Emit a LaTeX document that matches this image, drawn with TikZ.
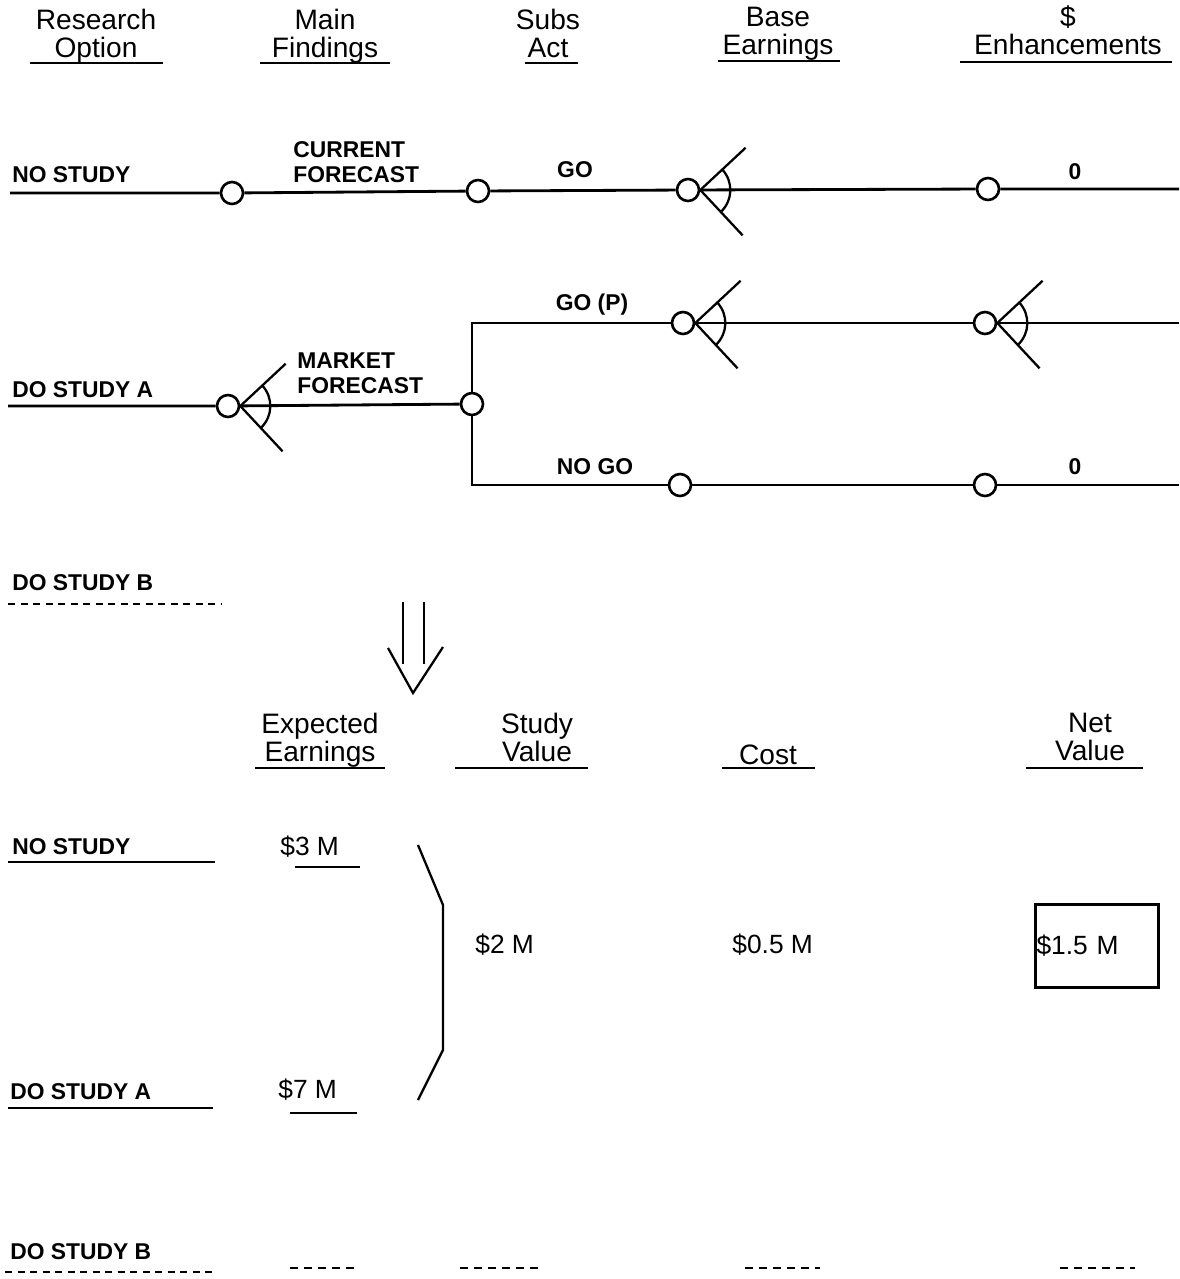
\documentclass[tikz,border=0pt]{standalone}
\usepackage{fontspec}
\setmainfont{Liberation Sans}

\tikzstyle{heading} = [align=center, anchor=north, font=\fontsize{16}{16}\selectfont, inner sep=0pt]
\tikzstyle{rowname} = [anchor=west, font=\fontsize{13}{15}\selectfont\bfseries, inner sep=0pt]
\tikzstyle{branch} = [align=left, font=\fontsize{13}{14.5}\selectfont\bfseries, inner sep=0pt]
\tikzstyle{amount} = [anchor=west, font=\fontsize{15}{17}\selectfont, inner sep=0pt]
\tikzstyle{event} = [circle, draw, fill=white, line width=1.5pt, minimum size=4.4mm, inner sep=0pt]
\tikzstyle{netbox} = [draw, line width=1.4pt, align=left, text width=24.2mm, minimum height=16.6mm, inner xsep=0.2mm, font=\fontsize{15}{17}\selectfont]
\tikzstyle{line} = [draw, line width=1.6pt]
\tikzstyle{fan} = [line width=1.3pt]
\tikzstyle{underline} = [line width=1.3pt]
\tikzstyle{blank} = [line width=1.3pt, dash pattern=on 1.4mm off 1.1mm]
\tikzstyle{shortblank} = [line width=1.3pt, dash pattern=on 1.6mm off 1.2mm]

\begin{document}
\begin{tikzpicture}[x=0.2mm, y=0.2mm]

\useasboundingbox (0,0) rectangle (1179,-1279);

	%Column headings of the decision tree
	\node[heading](research) at (96,-9) {Research\\Option};
	\node[heading](findings) at (325,-9) {Main\\Findings};
	\node[heading](subsact) at (548,-9) {Subs\\Act};
	\node[heading](baseearn) at (778,-7) {Base\\Earnings};
	\node[heading](enhance) at (1068,-5) {\$\\Enhancements};
	\draw[underline] (30,-63) -- (163,-63) (260,-63) -- (390,-63) (525,-63) -- (578,-63)
		(718,-61) -- (840,-61) (960,-62) -- (1172,-62);

	%No study branch
	\node[rowname](nsName) at (12,-175) {NO STUDY};
	\coordinate (nsStart) at (10,-193);
	\node[event](nsMain) at (232,-193) {};
	\node[event](nsAct) at (478,-191) {};
	\node[event](nsBase) at (688,-190) {};
	\node[event](nsEnh) at (988,-189) {};
	\coordinate (nsEnd) at (1179,-189);
	\path[line] (nsStart) -- (nsMain) -- (nsAct) -- (nsBase) -- (nsEnh) -- (nsEnd);
	\node[branch, anchor=west](nsFind) at (293,-162) {CURRENT\\FORECAST};
	\node[branch](nsGo) at (575,-170) {GO};
	\node[branch](nsZero) at (1075,-172) {0};

	%Study A branch
	\node[rowname](daName) at (12,-390) {DO STUDY A};
	\coordinate (daStart) at (8,-406);
	\node[event](daMain) at (228,-406) {};
	\node[event](daAct) at (472,-404) {};
	\node[event](goBase) at (683,-323) {};
	\node[event](goEnh) at (985,-323) {};
	\coordinate (goEnd) at (1179,-323);
	\node[event](nogoBase) at (680,-485) {};
	\node[event](nogoEnh) at (985,-485) {};
	\coordinate (nogoEnd) at (1179,-485);
	\path[line] (daStart) -- (daMain) -- (daAct);
	\path[line] (daAct) |- (goBase) -- (goEnh) -- (goEnd);
	\path[line] (daAct) |- (nogoBase) -- (nogoEnh) -- (nogoEnd);
	\node[branch, anchor=west](daFind) at (297,-373) {MARKET\\FORECAST};
	\node[branch](goLabel) at (592,-305) {GO (P)};
	\node[branch](nogoLabel) at (595,-467) {NO GO};
	\node[branch](nogoZero) at (1075,-467) {0};

	%Fans on the uncertain nodes
	\foreach \n in {nsBase, daMain, goBase, goEnh} {
		\draw[fan] (\n.east) -- ++(43:62) (\n.east) -- ++(-47:62)
			([shift={(43:30)}]\n.east) arc[start angle=43, end angle=-47, radius=30];
	}

	%Study B branch
	\node[rowname](dbName) at (12,-583) {DO STUDY B};
	\coordinate (dbStart) at (8,-604);
	\coordinate (dbEnd) at (222,-604);
	\path[line, blank] (dbStart) -- (dbEnd);

	%Double arrow down to the summary
	\draw[fan] (403,-602) -- (403,-664) (424,-602) -- (424,-664);
	\draw[fan] (388,-648) -- (413,-693) -- (443,-647);

	%Summary headings
	\node[heading](expected) at (320,-713) {Expected\\Earnings};
	\node[heading](studyval) at (537,-713) {Study\\Value};
	\node[heading](cost) at (768,-745) {Cost};
	\node[heading](netval) at (1090,-713) {Net\\Value};
	\draw[underline] (255,-768) -- (385,-768) (455,-768) -- (588,-768) (722,-768) -- (815,-768)
		(1026,-768) -- (1143,-768);

	%Summary values
	\node[rowname](nsName2) at (12,-847) {NO STUDY};
	\node[amount](nsExp) at (280,-847) {\$3 M};
	\node[rowname](daName2) at (10,-1092) {DO STUDY A};
	\node[amount](daExp) at (278,-1090) {\$7 M};
	\node[rowname](dbName2) at (10,-1252) {DO STUDY B};
	\draw[underline] (8,-862) -- (215,-862) (295,-867) -- (360,-867)
		(8,-1108) -- (213,-1108) (290,-1113) -- (357,-1113);
	\draw[blank] (5,-1272) -- (215,-1272);
	\draw[shortblank] (290,-1268) -- (357,-1268) (460,-1268) -- (540,-1268)
		(745,-1268) -- (820,-1268) (1060,-1268) -- (1135,-1268);

	\draw[fan] (418,-845) -- (443,-905) -- (443,-1050) -- (418,-1100);
	\node[amount](studyValue) at (475,-945) {\$2 M};
	\node[amount](costValue) at (732,-945) {\$0.5 M};
	\node[netbox](netValue) at (1097,-946) {\$1.5 M};

\end{tikzpicture}
\end{document}
